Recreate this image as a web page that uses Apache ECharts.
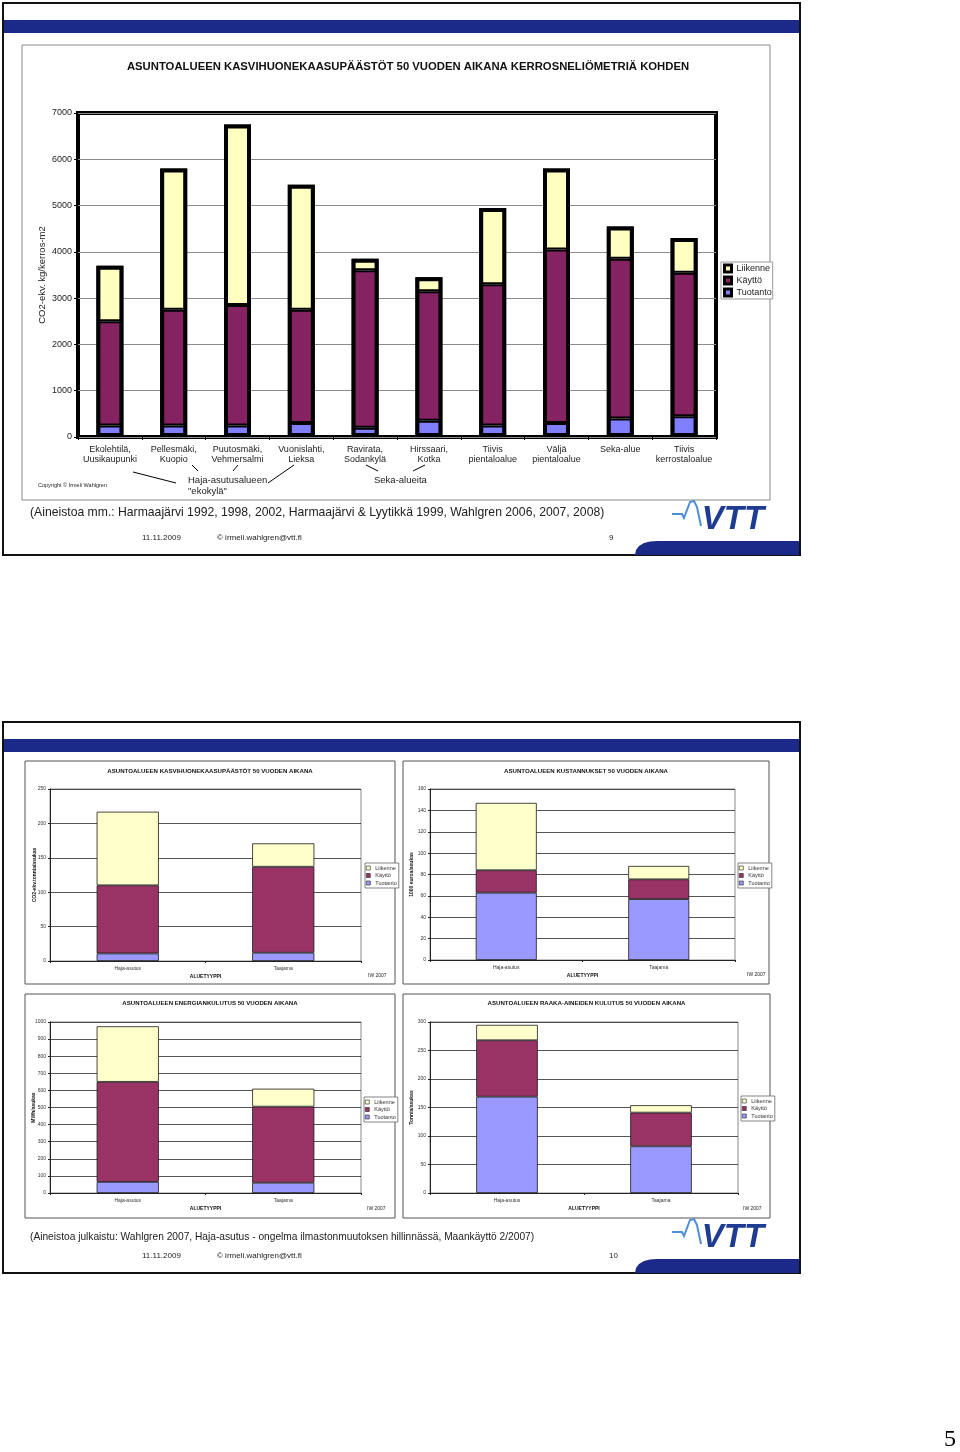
<!DOCTYPE html>
<html><head><meta charset="utf-8">
<script src="https://cdn.jsdelivr.net/npm/echarts@6/dist/echarts.min.js"></script>
<style>html,body{margin:0;padding:0;background:#fff;}#c{width:960px;height:1452px;}</style>
</head><body><div id="c"></div>
<script>
// ---------- DATA ----------
const seriesNames = ['Liikenne', 'Käyttö', 'Tuotanto'];
const mainCategories = ['Ekolehtilä,\nUusikaupunki', 'Pellesmäki,\nKuopio', 'Puutosmäki,\nVehmersalmi', 'Vuonislahti,\nLieksa', 'Ravirata,\nSodankylä', 'Hirssaari,\nKotka', 'Tiivis\npientaloalue', 'Väljä\npientaloalue', 'Seka-alue', 'Tiivis\nkerrostaloalue'];
const mainTuotanto = [250, 250, 250, 300, 200, 350, 250, 300, 400, 450];
const mainKaytto   = [2250, 2500, 2600, 2450, 3400, 2800, 3050, 3750, 3450, 3100];
const mainLiikenne = [1200, 3050, 3900, 2700, 250, 300, 1650, 1750, 700, 750];

const smallCategories = ['Haja-asutus', 'Taajama'];
const co2Tuotanto = [11, 12];
const co2Kaytto = [99, 125];
const co2Liikenne = [107, 34];
const costTuotanto = [63, 57];
const costKaytto = [21, 18.5];
const costLiikenne = [63, 12.5];
const energyTuotanto = [65, 60];
const energyKaytto = [585, 445];
const energyLiikenne = [325, 105];
const matTuotanto = [169, 82];
const matKaytto = [99, 59];
const matLiikenne = [27, 13];

// ---------- STYLE ----------
const F = 'Liberation Sans, Arial, sans-serif';
const NAVY = '#1b2a88';
const mainColors = {Liikenne: '#ffffc0', 'Käyttö': '#842262', Tuotanto: '#7f7fff'};
const smallColors = {Liikenne: '#ffffcc', 'Käyttö': '#993366', Tuotanto: '#9999ff'};
const plain = v => String(v);

const chart = echarts.init(document.getElementById('c'), null, {renderer: 'canvas'});

const grids = [];
const xAxes = [];
const yAxes = [];
const series = [];
const legends = [];
const graphics = [];

// main chart
grids.push({left: 78, top: 113, width: 638, height: 324, show: true, borderColor: '#000', borderWidth: 4, backgroundColor: 'transparent'});
xAxes.push({type: 'category', gridIndex: 0, data: mainCategories,
  axisLine: {show: false}, axisTick: {show: true, length: 3, lineStyle: {color: '#000'}},
  axisLabel: {interval: 0, fontFamily: F, fontSize: 9, lineHeight: 10, color: '#222', margin: 8}});
yAxes.push({type: 'value', gridIndex: 0, min: 0, max: 7000, interval: 1000,
  name: 'CO2-ekv. kg/kerros-m2', nameLocation: 'middle', nameGap: 31, nameMoveOverlap: false,
  nameTextStyle: {fontFamily: F, fontSize: 9.5, color: '#222'},
  axisLine: {show: false}, axisTick: {show: true, length: 4, lineStyle: {color: '#000'}},
  splitLine: {lineStyle: {color: '#8c8c8c', width: 1}},
  axisLabel: {fontFamily: F, fontSize: 9, color: '#222', margin: 6, formatter: plain}});
const mainData = {Tuotanto: mainTuotanto, 'Käyttö': mainKaytto, Liikenne: mainLiikenne};
['Tuotanto', 'Käyttö', 'Liikenne'].forEach(n => {
  series.push({type: 'bar', name: n, xAxisIndex: 0, yAxisIndex: 0, stack: 'main', data: mainData[n],
    barWidth: 27, barGap: '-100%', itemStyle: {color: mainColors[n], borderColor: '#000', borderWidth: 2}, z: 3});
});
// outer outline of each stacked column (sum of the three read values)
const mainTotals = mainTuotanto.map((v, i) => v + mainKaytto[i] + mainLiikenne[i]);
series.push({type: 'bar', name: 'outline', xAxisIndex: 0, yAxisIndex: 0, data: mainTotals, silent: true,
  barWidth: 27, barGap: '-100%', itemStyle: {color: 'transparent', borderColor: '#000', borderWidth: 4}, z: 4});
legends.push({left: 721, top: 262, orient: 'vertical', icon: 'rect', itemWidth: 7, itemHeight: 7, itemGap: 1,
  padding: [1, 1, 1, 2], borderColor: '#999', borderWidth: 1, backgroundColor: '#fff',
  textStyle: {fontFamily: F, fontSize: 9, color: '#222', lineHeight: 11},
  formatter: s => s.split('|')[0],
  data: seriesNames.map(n => ({name: n, itemStyle: {color: mainColors[n], borderColor: '#000', borderWidth: 3}}))});

// small charts
const small = [
  {grid: {left: 50, top: 789, width: 311, height: 172}, max: 250, interval: 50, yName: 'CO2-ekv.tonnia/asukas', nameGap: 13,
   d: [co2Tuotanto, co2Kaytto, co2Liikenne], legend: {left: 365, top: 863}},
  {grid: {left: 430, top: 789, width: 305, height: 171}, max: 160, interval: 20, yName: '1000 euroa/asukas', nameGap: 15.5,
   d: [costTuotanto, costKaytto, costLiikenne], legend: {left: 738, top: 863}},
  {grid: {left: 50, top: 1022, width: 311, height: 171}, max: 1000, interval: 100, yName: 'MWh/asukas', nameGap: 13.5,
   d: [energyTuotanto, energyKaytto, energyLiikenne], legend: {left: 364, top: 1097}},
  {grid: {left: 430, top: 1022, width: 308, height: 171}, max: 300, interval: 50, yName: 'Tonnia/asukas', nameGap: 15.5,
   d: [matTuotanto, matKaytto, matLiikenne], legend: {left: 741, top: 1096}}
];
small.forEach((c, i) => {
  const gi = i + 1;
  grids.push(Object.assign({show: true, borderColor: '#8a8a8a', borderWidth: 1, backgroundColor: 'transparent'}, c.grid));
  xAxes.push({type: 'category', gridIndex: gi, data: smallCategories,
    name: 'ALUETYYPPI', nameLocation: 'middle', nameGap: 13, nameMoveOverlap: false,
    nameTextStyle: {fontFamily: F, fontSize: 5, fontWeight: 'bold', color: '#111'},
    axisLine: {show: true, lineStyle: {color: '#222', width: 1}},
    axisTick: {show: true, length: 2, lineStyle: {color: '#222'}},
    axisLabel: {interval: 0, fontFamily: F, fontSize: 5, color: '#333', margin: 5}});
  yAxes.push({type: 'value', gridIndex: gi, min: 0, max: c.max, interval: c.interval,
    name: c.yName, nameLocation: 'middle', nameGap: c.nameGap, nameMoveOverlap: false,
    nameTextStyle: {fontFamily: F, fontSize: 5, fontWeight: 'bold', color: '#111'},
    axisLine: {show: true, lineStyle: {color: '#222', width: 1}},
    axisTick: {show: true, length: 2, lineStyle: {color: '#222'}},
    splitLine: {lineStyle: {color: '#2a2a2a', width: 0.8}},
    axisLabel: {fontFamily: F, fontSize: 5, color: '#333', margin: 4, formatter: plain}});
  ['Tuotanto', 'Käyttö', 'Liikenne'].forEach((n, k) => {
    series.push({type: 'bar', name: n + '|' + gi, xAxisIndex: gi, yAxisIndex: gi, stack: 's' + gi, data: c.d[k],
      barWidth: '40%', itemStyle: {color: smallColors[n], borderColor: '#1a1a1a', borderWidth: 0.8}, z: 3});
  });
  legends.push({left: c.legend.left, top: c.legend.top, orient: 'vertical', icon: 'rect', itemWidth: 4, itemHeight: 4, itemGap: 1.5,
    padding: [2, 2, 2, 1], borderColor: '#666', borderWidth: 0.8, backgroundColor: '#fff',
    textStyle: {fontFamily: F, fontSize: 5.5, color: '#333', lineHeight: 6},
    formatter: s => s.split('|')[0],
    data: seriesNames.map(n => ({name: n + '|' + gi, itemStyle: {color: smallColors[n], borderColor: '#222', borderWidth: 0.6}}))});
});

// ---------- DECORATION (graphic) ----------
function txt(text, x, y, size, opts) {
  opts = opts || {};
  graphics.push({type: 'text', z: 10, style: {text: text, x: x, y: y,
    font: (opts.style || 'normal') + ' ' + (opts.weight || 'normal') + ' ' + size + 'px ' + (opts.family || F),
    fill: opts.fill || '#222', textAlign: opts.align || 'left', textVerticalAlign: 'middle'}});
}
function rect(x, y, w, h, stroke, lw, fill) {
  graphics.push({type: 'rect', z: 0, shape: {x: x, y: y, width: w, height: h},
    style: {fill: fill || 'none', stroke: stroke || 'none', lineWidth: lw || 0}});
}
function line(x1, y1, x2, y2, color, lw) {
  graphics.push({type: 'line', z: 10, shape: {x1: x1, y1: y1, x2: x2, y2: y2}, style: {stroke: color || '#000', lineWidth: lw || 1}});
}
function slideChrome(oy, top, bottom, pageNo) {
  rect(3, top, 797, bottom - top, '#111', 2);
  rect(4, top + 17, 795, 13, null, 0, NAVY);
  const b = bottom;
  graphics.push({type: 'polygon', z: 1, shape: {points: [[635, b], [636, b - 5], [639, b - 9], [644, b - 12], [650, b - 13.5], [657, b - 14], [799, b - 14], [799, b]]},
    style: {fill: NAVY}});
  // VTT logo
  graphics.push({type: 'polyline', z: 10, shape: {points: [[672, 514 + oy], [682, 514 + oy], [684, 518 + oy], [690, 502 + oy], [694, 501 + oy], [697, 507 + oy], [701, 526 + oy]]},
    style: {fill: 'none', stroke: '#4d8fd6', lineWidth: 2}});
  txt('VTT', 733, 520 + oy, 33, {style: 'italic', weight: 'bold', fill: '#1d3c92', align: 'center'});
  txt('11.11.2009', 142, 538 + oy, 8);
  txt('© irmeli.wahlgren@vtt.fi', 217, 538 + oy, 8);
  txt(pageNo, 609, 538 + oy, 8);
}

// Slide 1
slideChrome(0, 3, 555, '9');
rect(22, 45, 748, 455, '#8a8a8a', 1);
txt('ASUNTOALUEEN KASVIHUONEKAASUPÄÄSTÖT 50 VUODEN AIKANA KERROSNELIÖMETRIÄ KOHDEN', 408, 67, 11.3, {weight: 'bold', fill: '#111', align: 'center'});
txt('Copyright © Irmeli Wahlgren', 38, 485, 5.5);
txt('Haja-asutusalueen', 188, 480, 9.5);
txt('"ekokylä"', 188, 491, 9.5);
txt('Seka-alueita', 374, 480, 9.5);
line(133, 472, 176, 483);
line(192, 465, 198, 471);
line(238, 465, 233, 471);
line(268, 483, 294, 465);
line(366, 465, 378, 471);
line(425, 465, 413, 471);
txt('(Aineistoa mm.: Harmaajärvi 1992, 1998, 2002, Harmaajärvi & Lyytikkä 1999, Wahlgren 2006, 2007, 2008)', 30, 513, 12.2);

// Slide 2
slideChrome(718, 722, 1273, '10');
const boxes = [
  {x: 25, y: 761, w: 370, h: 223, title: 'ASUNTOALUEEN KASVIHUONEKAASUPÄÄSTÖT 50 VUODEN AIKANA', ty: 771, iw: [368, 976]},
  {x: 403, y: 761, w: 366, h: 223, title: 'ASUNTOALUEEN KUSTANNUKSET 50 VUODEN AIKANA', ty: 771, iw: [747, 975]},
  {x: 25, y: 994, w: 370, h: 224, title: 'ASUNTOALUEEN ENERGIANKULUTUS 50 VUODEN AIKANA', ty: 1003, iw: [367, 1209]},
  {x: 403, y: 994, w: 367, h: 224, title: 'ASUNTOALUEEN RAAKA-AINEIDEN KULUTUS 50 VUODEN AIKANA', ty: 1003, iw: [743, 1209]}
];
boxes.forEach(bx => {
  rect(bx.x, bx.y, bx.w, bx.h, '#555', 1);
  txt(bx.title, bx.x + bx.w / 2, bx.ty, 6.1, {weight: 'bold', fill: '#111', align: 'center'});
  txt('IW 2007', bx.iw[0], bx.iw[1], 5);
});
txt('(Aineistoa julkaistu: Wahlgren 2007, Haja-asutus - ongelma ilmastonmuutoksen hillinnässä, Maankäyttö 2/2007)', 30, 1237, 10.2);

// page number
txt('5', 950, 1440, 24, {family: 'Liberation Serif, serif', fill: '#000', align: 'center'});

chart.setOption({
  animation: false,
  backgroundColor: '#fff',
  grid: grids,
  xAxis: xAxes,
  yAxis: yAxes,
  legend: legends,
  series: series,
  graphic: {elements: graphics}
});
</script>
</body></html>
